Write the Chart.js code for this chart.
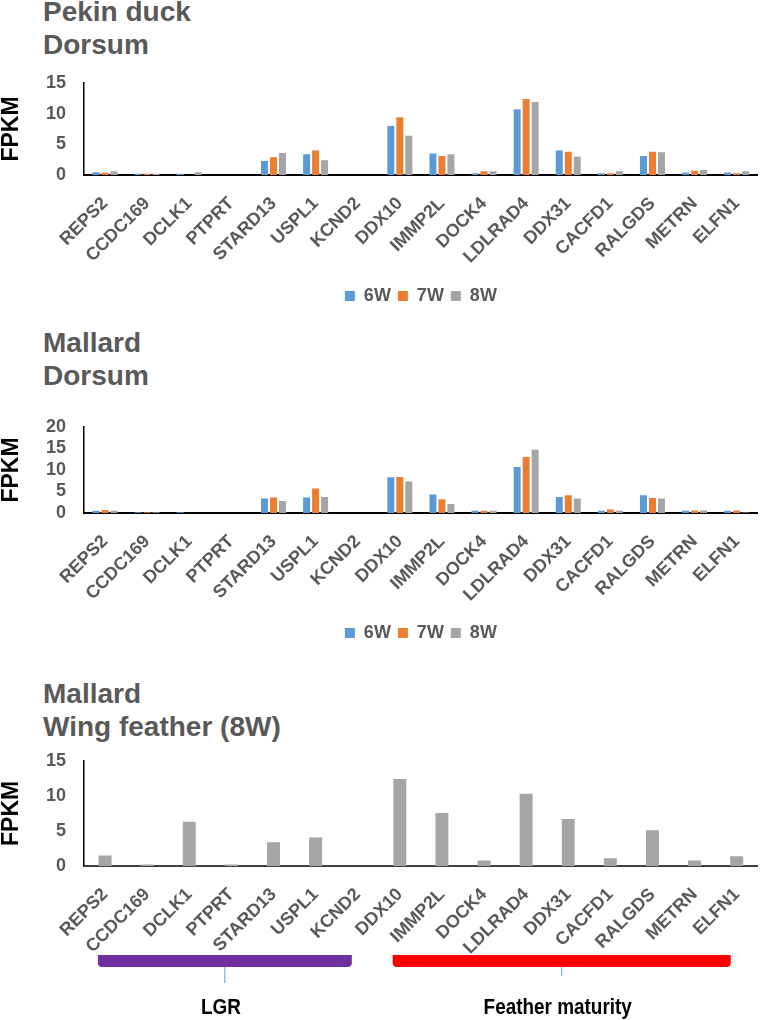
<!DOCTYPE html>
<html>
<head>
<meta charset="utf-8">
<script src="https://cdn.jsdelivr.net/npm/chart.js@4.4.1/dist/chart.umd.min.js"></script>
<style>
  body { margin: 0; width: 762px; height: 1020px; background: #fff; position: relative; overflow: hidden; font-family: "Liberation Sans", Arial, sans-serif; }
  .title { position: absolute; left: 43px; font-weight: bold; font-size: 28px; line-height: 33px; color: #595959; white-space: nowrap; }
  .box { position: absolute; left: 0; width: 762px; }
</style>
</head>
<body>
<div class="title" style="top:-5px">Pekin duck<br>Dorsum</div>
<div class="title" style="top:326px">Mallard<br>Dorsum</div>
<div class="title" style="top:677px">Mallard<br>Wing feather (8W)</div>

<div class="box" style="top:60px;height:255px"><canvas id="pekin"></canvas></div>
<div class="box" style="top:400px;height:252px"><canvas id="mallard"></canvas></div>
<div class="box" style="top:740px;height:280px"><canvas id="wing"></canvas></div>

<script>
const genes = ['REPS2', 'CCDC169', 'DCLK1', 'PTPRT', 'STARD13', 'USPL1', 'KCND2', 'DDX10',
  'IMMP2L', 'DOCK4', 'LDLRAD4', 'DDX31', 'CACFD1', 'RALGDS', 'METRN', 'ELFN1']

const pekin6W = [0.45, 0.2, 0.2, 0, 2.3, 3.4, 0, 8.0, 3.5, 0.3, 10.7, 4.0, 0.3, 3.1, 0.4, 0.4]
const pekin7W = [0.35, 0.2, 0, 0, 2.9, 4.0, 0, 9.4, 3.1, 0.6, 12.4, 3.8, 0.3, 3.8, 0.7, 0.3]
const pekin8W = [0.6, 0.2, 0.45, 0, 3.6, 2.4, 0, 6.4, 3.4, 0.6, 11.9, 3.0, 0.6, 3.7, 0.8, 0.6]

const mallard6W = [0.5, 0.2, 0.2, 0, 3.35, 3.6, 0, 8.3, 4.3, 0.5, 10.7, 3.7, 0.5, 4.1, 0.5, 0.5]
const mallard7W = [0.7, 0.2, 0, 0, 3.6, 5.7, 0, 8.4, 3.2, 0.5, 13.0, 4.1, 0.8, 3.5, 0.6, 0.6]
const mallard8W = [0.5, 0.2, 0, 0, 2.8, 3.75, 0, 7.3, 2.1, 0.5, 14.7, 3.4, 0.5, 3.4, 0.6, 0.1]

const wing8W = [1.5, 0.2, 6.3, 0.2, 3.4, 4.05, 0, 12.4, 7.55, 0.8, 10.3, 6.7, 1.1, 5.1, 0.8, 1.4]

// gene groups shown under the wing feather chart (first / last gene index)
const groupNames = ['LGR', 'Feather maturity']
const groupFrom = [0, 7]
const groupTo = [6, 15]
const groupColors = ['#7030A0', '#FF0000']

const BLUE = '#5B9BD5', ORANGE = '#ED7D31', GREY = '#A5A5A5', TEXT = '#595959'
const font = {family: '"Liberation Sans", Arial, sans-serif', weight: 'bold', size: 18}

function options(yMax, legend, xHeight, padTop, axisColor) {
    return {
        responsive: true,
        maintainAspectRatio: false,
        animation: false,
        layout: {padding: {top: padTop, left: 0, right: 1, bottom: 0}},
        plugins: {
            legend: {
                display: legend,
                position: 'bottom',
                fullSize: false,
                labels: {font: font, color: TEXT, boxWidth: 10, boxHeight: 10, padding: 7}
            },
            tooltip: {enabled: false}
        },
        scales: {
            x: {
                grid: {display: false},
                border: {display: true, color: axisColor, width: 2},
                ticks: {font: font, color: TEXT, maxRotation: 45, minRotation: 45, padding: 10, autoSkip: false},
                afterFit: s => { s.height = xHeight }
            },
            y: {
                min: 0,
                max: yMax,
                grid: {display: false},
                border: {display: true, color: '#000', width: 1.5},
                ticks: {font: font, color: TEXT, stepSize: 5, padding: 10, autoSkip: false},
                title: {display: true, text: 'FPKM', color: '#000', padding: 0,
                    font: {family: font.family, weight: 'bold', size: 23, lineHeight: 1}},
                afterFit: s => { s.width = 84 }
            }
        }
    }
}

function series(label, data, color, catPct, barPct) {
    return {label, data, backgroundColor: color, borderColor: '#fff', borderWidth: 0,
        categoryPercentage: catPct, barPercentage: barPct}
}

new Chart(document.getElementById('pekin'), {
    type: 'bar',
    data: {
        labels: genes,
        datasets: [
            series('6W', pekin6W, BLUE, 0.64, 0.78),
            series('7W', pekin7W, ORANGE, 0.64, 0.78),
            series('8W', pekin8W, GREY, 0.64, 0.78)
        ]
    },
    options: options(15, true, 105, 23, '#000')
})

new Chart(document.getElementById('mallard'), {
    type: 'bar',
    data: {
        labels: genes,
        datasets: [
            series('6W', mallard6W, BLUE, 0.64, 0.78),
            series('7W', mallard7W, ORANGE, 0.64, 0.78),
            series('8W', mallard8W, GREY, 0.64, 0.78)
        ]
    },
    options: options(20, true, 104, 27, '#000')
})

// brackets + captions under the rotated gene names
const groupBrackets = {
    id: 'groupBrackets',
    afterDraw(chart) {
        const ctx = chart.ctx
        const x = chart.scales.x
        const base = chart.chartArea.bottom
        ctx.save()
        groupNames.forEach((name, i) => {
            const x0 = x.getPixelForValue(groupFrom[i] - 0.17)
            const x1 = x.getPixelForValue(groupTo[i] - 0.14)
            const mid = (x0 + x1) / 2
            const top = base + 89
            ctx.fillStyle = groupColors[i]
            ctx.beginPath()
            ctx.moveTo(x0, top)
            ctx.lineTo(x1, top)
            ctx.lineTo(x1, top + 9)
            ctx.quadraticCurveTo(x1 - 1, top + 12, x1 - 4, top + 12)
            ctx.lineTo(x0 + 4, top + 12)
            ctx.quadraticCurveTo(x0 + 1, top + 12, x0, top + 9)
            ctx.closePath()
            ctx.fill()
            ctx.strokeStyle = '#5B9BD5'
            ctx.lineWidth = 1
            ctx.beginPath()
            ctx.moveTo(mid, top + 12)
            ctx.lineTo(mid, top + (i === 0 ? 28 : 21))
            ctx.stroke()
            ctx.fillStyle = '#000'
            ctx.font = 'bold 22px "Liberation Sans", Arial, sans-serif'
            ctx.textAlign = 'center'
            ctx.textBaseline = 'middle'
            ctx.save()
            ctx.translate(mid - 4, base + 142)
            ctx.scale(0.86, 1)
            ctx.fillText(name, 0, 0)
            ctx.restore()
        })
        ctx.restore()
    }
}

new Chart(document.getElementById('wing'), {
    type: 'bar',
    data: {
        labels: genes,
        datasets: [series('8W', wing8W, GREY, 0.8, 0.385)]
    },
    options: options(15, false, 154, 20, '#404040'),
    plugins: [groupBrackets]
})
</script>
</body>
</html>
